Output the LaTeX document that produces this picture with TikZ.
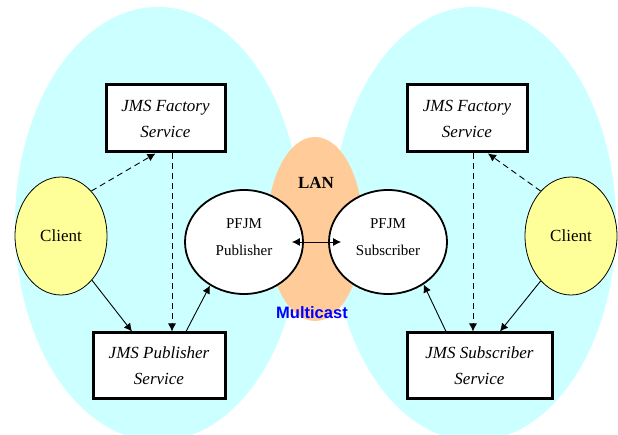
\documentclass[tikz,border=0pt]{standalone}
\usepackage{fontspec}
\setmainfont{Liberation Serif}
\newfontfamily\arialfont{Liberation Sans}
\usetikzlibrary{shapes.geometric,arrows.meta,calc}
\definecolor{zonecyan}{RGB}{204,255,255}
\definecolor{lanorange}{RGB}{255,204,153}
\definecolor{clientyellow}{RGB}{255,255,153}
\definecolor{mcblue}{RGB}{0,0,255}
\tikzset{
  zone/.style={ellipse, fill=zonecyan, draw=none, inner sep=0pt},
  svcbox/.style={rectangle, draw, line width=3pt, fill=white, inner sep=0pt, align=center,
    font=\fontsize{17}{26}\selectfont\itshape},
  client/.style={ellipse, draw, line width=0.8pt, fill=clientyellow, inner sep=0pt,
    minimum width=92pt, minimum height=118pt, font=\fontsize{17}{20}\selectfont},
  pfjm/.style={ellipse, draw, line width=1.8pt, fill=white, inner sep=0pt,
    minimum width=118pt, minimum height=104pt},
  pfjmtxt/.style={align=center, inner sep=0pt, font=\fontsize{15}{27}\selectfont},
  arr/.style={-{Latex[length=8pt,width=8pt]}, line width=0.9pt},
  darr/.style={arr, dash pattern=on 6pt off 4pt},
}
\begin{document}
\begin{tikzpicture}[x=1pt,y=-1pt]
\useasboundingbox (0,0) rectangle (618,435);
% zones
\node[zone, minimum width=286pt, minimum height=434pt] (zoneL) at (158,224) {};
\node[zone, minimum width=284pt, minimum height=434pt] (zoneR) at (474,224) {};
\node[ellipse, fill=lanorange, inner sep=0pt, minimum width=96pt, minimum height=184pt] (lan) at (315,229) {};
\node[font=\fontsize{17}{20}\selectfont\bfseries] (lanlbl) at (316,183) {LAN};
\node[font=\arialfont\fontsize{16.5}{20}\selectfont\bfseries, text=mcblue] (mc) at (312,313) {Multicast};
% boxes
\node[svcbox, minimum width=119pt, minimum height=67pt] (factL) at (165.5,118.5) {JMS Factory\\Service};
\node[svcbox, minimum width=120pt, minimum height=67pt] (factR) at (467,118.5) {JMS Factory\\Service};
\node[svcbox, minimum width=132pt, minimum height=65pt] (pubB) at (159,365.5) {JMS Publisher\\Service};
\node[svcbox, minimum width=145pt, minimum height=65pt] (subB) at (479.5,365.5) {JMS Subscriber\\Service};
% clients
\node[client] (clientL) at (61,236) {Client};
\node[client] (clientR) at (571,236) {Client};
% PFJM
\node[pfjm] (pfPub) at (244,242) {};
\node[pfjm] (pfSub) at (388,242) {};
\node[pfjmtxt] (pfPubT) at ([yshift=5pt]pfPub.center) {PFJM\\Publisher};
\node[pfjmtxt] (pfSubT) at ([yshift=5pt]pfSub.center) {PFJM\\Subscriber};
% connectors left
\draw[darr] (clientL.56) -- ([xshift=-10pt]factL.south);
\draw[darr] ([xshift=6.5pt]factL.south) -- ([xshift=13pt]pubB.north);
\draw[arr] (clientL.-55) -- ([xshift=-27pt]pubB.north);
\draw[arr] ([xshift=27pt]pubB.north) -- (pfPub.-128);
% connectors right
\draw[darr] (clientR.124) -- ([xshift=21pt]factR.south);
\draw[darr] ([xshift=6pt]factR.south) -- ([xshift=-6.5pt]subB.north);
\draw[arr] (clientR.-124) -- ([xshift=20.5pt]subB.north);
\draw[arr] ([xshift=-33.5pt]subB.north) -- (pfSub.-50);
% LAN link
\draw[{Latex[length=8pt,width=8pt]}-{Latex[length=8pt,width=8pt]}, line width=0.9pt]
  ([xshift=-12pt]pfPub.east) -- ([xshift=13pt]pfSub.west);
\end{tikzpicture}
\end{document}
